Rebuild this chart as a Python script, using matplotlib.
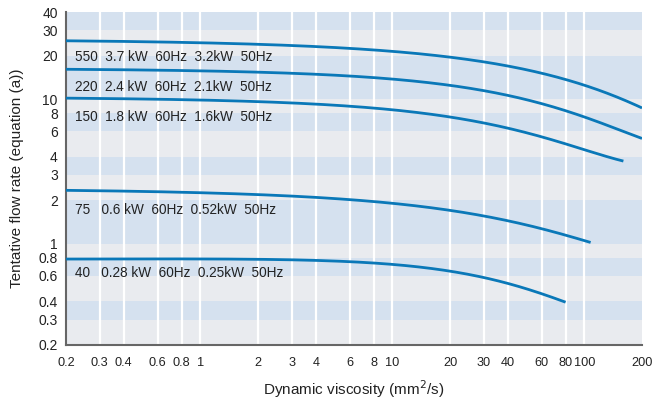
import matplotlib
matplotlib.use("Agg")
import matplotlib.pyplot as plt
import numpy as np

plt.rcParams['font.family'] = ['Liberation Sans', 'DejaVu Sans']

# Dynamic viscosity (mm^2/s) and tentative flow rate for each pump size
visc_550 = [0.2, 1, 4.75, 10, 20, 30, 40, 60, 80, 100, 200]
flow_550 = [25.5, 24.3, 22.7, 21.6, 19.45, 17.96, 17.0, 15.2, 13.7, 12.4, 8.7]

visc_220 = [0.2, 1, 4.75, 10, 20, 30, 40, 60, 80, 100, 200]
flow_220 = [16.3, 15.6, 14.5, 13.6, 12.5, 11.56, 10.8, 9.25, 8.28, 7.49, 5.36]

visc_150 = [0.2, 1, 4.75, 10, 20, 30, 40, 60, 80, 100, 160]
flow_150 = [10.2, 9.9, 8.96, 8.5, 7.49, 6.81, 6.38, 5.56, 4.9, 4.4, 3.75]

visc_75 = [0.2, 1, 4.75, 10, 20, 30, 40, 60, 80, 108]
flow_75 = [2.35, 2.23, 2.09, 1.92, 1.69, 1.54, 1.45, 1.28, 1.15, 1.02]

visc_40 = [0.2, 1, 4.75, 10, 20, 30, 40, 60, 80]
flow_40 = [0.794, 0.777, 0.752, 0.734, 0.652, 0.583, 0.527, 0.455, 0.395]

labels = [
    "550  3.7 kW  60Hz  3.2kW  50Hz",
    "220  2.4 kW  60Hz  2.1kW  50Hz",
    "150  1.8 kW  60Hz  1.6kW  50Hz",
    "75   0.6 kW  60Hz  0.52kW  50Hz",
    "40   0.28 kW  60Hz  0.25kW  50Hz",
]
label_y = [19.5, 12.2, 7.55, 1.71, 0.63]

x_ticks = [0.2, 0.3, 0.4, 0.6, 0.8, 1, 2, 3, 4, 6, 8, 10, 20, 30, 40, 60, 80, 100, 200]
x_ticklabels = ["0.2", "0.3", "0.4", "0.6", "0.8", "1", "2", "3", "4", "6", "8", "10",
                "20", "30", "40", "60", "80", "100", "200"]
y_ticks = [0.2, 0.3, 0.4, 0.6, 0.8, 1, 2, 3, 4, 6, 8, 10, 20, 30, 40]
y_ticklabels = ["0.2", "0.3", "0.4", "0.6", "0.8", "1", "2", "3", "4", "6", "8", "10",
                "20", "30", "40"]

line_color = "#0a78b8"
band_blue = "#d5e1ef"
band_gray = "#e9ebef"
text_color = "#222222"


def smooth_curve(visc, flow, n=300):
    """Least-squares smooth curve: log10(flow) as a cubic in sqrt(viscosity)."""
    v = np.asarray(visc, float)
    u = np.sqrt(v)
    ly = np.log10(np.asarray(flow, float))
    coeffs = np.polyfit(u, ly, 3)
    vv = np.logspace(np.log10(v[0]), np.log10(v[-1]), n)
    return vv, 10 ** np.polyval(coeffs, np.sqrt(vv))


fig = plt.figure(figsize=(6.52, 4.05), dpi=100)
ax = fig.add_axes([66 / 652, 1 - 345 / 405, (642 - 66) / 652, (345 - 12) / 405])
ax.set_xscale("log")
ax.set_yscale("log")
ax.set_xlim(0.2, 200)
ax.set_ylim(0.2, 40)

# Alternating horizontal bands between the y tick levels (top band is blue)
levels = sorted(y_ticks)
n = len(levels) - 1
for i in range(n):
    lo, hi = levels[i], levels[i + 1]
    from_top = n - 1 - i
    ax.axhspan(lo, hi, color=band_blue if from_top % 2 == 0 else band_gray, lw=0, zorder=0)

# White vertical grid lines
for xv in x_ticks[1:-1]:
    ax.axvline(xv, color="white", lw=1.6, zorder=1)

series = [(visc_550, flow_550), (visc_220, flow_220), (visc_150, flow_150),
          (visc_75, flow_75), (visc_40, flow_40)]
for xs, ys in series:
    vv, ff = smooth_curve(xs, ys)
    ax.plot(vv, ff, color=line_color, lw=2.0, zorder=3, solid_capstyle="butt")

for txt, yv in zip(labels, label_y):
    ax.text(0.223, yv, txt, fontsize=9.8, color=text_color, va="center", ha="left", zorder=4)

ax.set_xticks(x_ticks)
ax.set_xticklabels(x_ticklabels)
ax.set_yticks(y_ticks)
ax.set_yticklabels(y_ticklabels)
ax.minorticks_off()
ax.tick_params(axis="both", length=0, labelsize=10, colors=text_color)
ax.tick_params(axis="x", pad=9, labelsize=9.2)
ax.tick_params(axis="y", pad=6)

for side in ["top", "right"]:
    ax.spines[side].set_visible(False)
for side in ["left", "bottom"]:
    ax.spines[side].set_color("#666666")
    ax.spines[side].set_linewidth(1.5)

ax.set_xlabel("Dynamic viscosity (mm$^2$/s)", fontsize=11, color=text_color, labelpad=6)
ax.set_ylabel("Tentative flow rate (equation (a))", fontsize=11, color=text_color, labelpad=10)

fig.savefig("out.png", dpi=100)
